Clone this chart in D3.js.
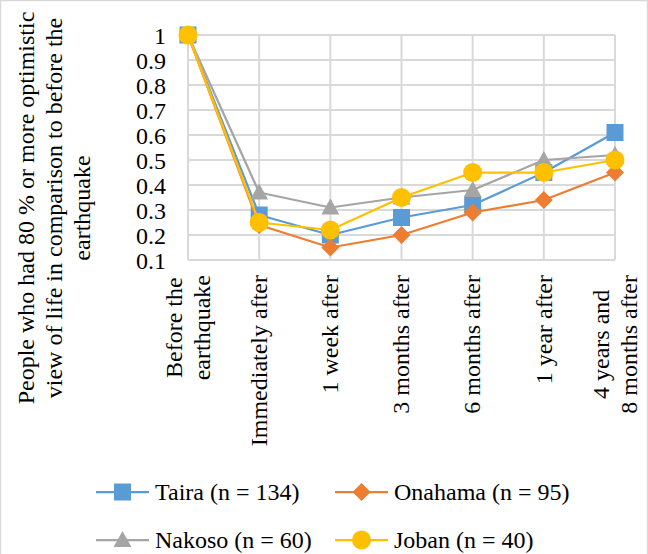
<!DOCTYPE html>
<html><head><meta charset="utf-8">
<script src="https://cdn.jsdelivr.net/npm/d3@7"></script>
<style>
html,body{margin:0;padding:0;background:#fff;}
</style></head>
<body>
<svg id="chart" width="648" height="554"></svg>
<script>
const categories = [["Before the","earthquake"],["Immediately after"],["1 week after"],["3 months after"],["6 months after"],["1 year after"],["4 years and","8 months after"]];
const catKeys = categories.map(d => d.join(" "));
const taira   = [1.0, 0.28, 0.20, 0.27, 0.32, 0.45, 0.61];
const onahama = [1.0, 0.24, 0.15, 0.20, 0.29, 0.34, 0.45];
const nakoso  = [1.0, 0.37, 0.31, 0.35, 0.38, 0.50, 0.52];
const joban   = [1.0, 0.25, 0.22, 0.35, 0.45, 0.45, 0.50];
const yTicks = [0.1,0.2,0.3,0.4,0.5,0.6,0.7,0.8,0.9,1];
const seriesNames = ["Taira (n = 134)","Onahama (n = 95)","Nakoso (n = 60)","Joban (n = 40)"];
const seriesColors = ["#5B9BD5","#ED7D31","#A5A5A5","#FFC000"];
const seriesShapes = ["square","diamond","triangle","circle"];
const yTitle = ["People who had 80 % or more optimistic","view of life in comparison to before the","earthquake"];

const series = [taira, onahama, nakoso, joban].map((v,i)=>({name:seriesNames[i],values:v,color:seriesColors[i],shape:seriesShapes[i]}));

const FONT = '"Liberation Serif"';
const svg = d3.select("#chart");
const FS = 24;
const x = d3.scalePoint().domain(catKeys).range([188, 615]);
const y = d3.scaleLinear().domain([0.1, 1]).range([260, 35]);

function txt(sel){ return sel.style("font-family", FONT).style("font-size", FS+"px").attr("fill","#000"); }

// chart border
svg.append("rect").attr("x",0.5).attr("y",0.5).attr("width",647).attr("height",600)
  .attr("fill","none").attr("stroke","#d9d9d9").attr("stroke-width",1.5);

// gridlines
const grid = svg.append("g");
grid.selectAll("line.h").data(yTicks).join("line")
  .attr("x1", x.range()[0]).attr("x2", x.range()[1])
  .attr("y1", d=>y(d)).attr("y2", d=>y(d))
  .attr("stroke","#d9d9d9").attr("stroke-width",2);
grid.selectAll("line.v").data(catKeys).join("line")
  .attr("x1", d=>x(d)).attr("x2", d=>x(d))
  .attr("y1", y(1)).attr("y2", y(0.1))
  .attr("stroke","#d9d9d9").attr("stroke-width",2);

// y axis labels
const yAxis = d3.axisLeft(y).tickValues(yTicks).tickSize(0).tickPadding(0)
  .tickFormat(d => d3.format("~g")(d));
const ya = svg.append("g").attr("transform","translate(166,0)").call(yAxis);
ya.attr("font-family", null).attr("font-size", null);
ya.select(".domain").remove();
txt(ya.selectAll("text")).attr("dy","0.34em");

// x labels (rotated)
const lineH = 28;
const xl = svg.append("g");
categories.forEach((lines,i)=>{
  const cx = x(catKeys[i]);
  const g = xl.append("g").attr("transform",`translate(${cx},275) rotate(-90)`);
  const n = lines.length;
  const t = txt(g.append("text")).attr("text-anchor","middle");
  const tspans = lines.map((s,j)=> t.append("tspan").attr("x",0)
      .attr("y", (j - (n-1)/2)*lineH).attr("dy","0.32em").text(s));
  const maxLen = d3.max(tspans, ts=>ts.node().getComputedTextLength());
  t.attr("transform",`translate(${-maxLen/2},0)`);
});

// y title
const yt = svg.append("g").attr("transform","translate(54,208) rotate(-90)");
const ytt = txt(yt.append("text")).attr("text-anchor","middle");
yTitle.forEach((s,j)=> ytt.append("tspan").attr("x",0).attr("y",(j-1)*lineH).attr("dy","0.32em").text(s));

// symbols
function sym(shape){
  if(shape==="square") return d3.symbol(d3.symbolSquare, 17*17)();
  if(shape==="diamond") return "M0,-9L9,0L0,9L-9,0Z";
  if(shape==="triangle") return "M0,-9L9,7L-9,7Z";
  return d3.symbol(d3.symbolCircle, Math.PI*9.5*9.5)();
}

const line = d3.line().x((d,i)=>x(catKeys[i])).y(d=>y(d));
const plot = svg.append("g");
series.forEach(s=>{
  const g = plot.append("g");
  g.append("path").attr("d", line(s.values)).attr("fill","none")
    .attr("stroke", s.color).attr("stroke-width",2.25).attr("stroke-linejoin","round");
  g.selectAll("path.m").data(s.values).join("path").attr("class","m")
    .attr("d", sym(s.shape))
    .attr("transform",(d,i)=>`translate(${x(catKeys[i])},${y(d)})`)
    .attr("fill", s.color);
});

// legend
const legPos = [[96,492],[335,492],[96,540],[335,540]];
const leg = svg.append("g");
series.forEach((s,i)=>{
  const [lx,ly] = legPos[i];
  const g = leg.append("g").attr("transform",`translate(${lx},${ly})`);
  g.append("line").attr("x1",0).attr("x2",53).attr("y1",0).attr("y2",0)
    .attr("stroke",s.color).attr("stroke-width",2.25);
  g.append("path").attr("d",sym(s.shape)).attr("transform","translate(26.5,0)").attr("fill",s.color);
  txt(g.append("text")).attr("x",59).attr("y",0).attr("dy","0.34em").text(s.name);
});
</script>
</body></html>
